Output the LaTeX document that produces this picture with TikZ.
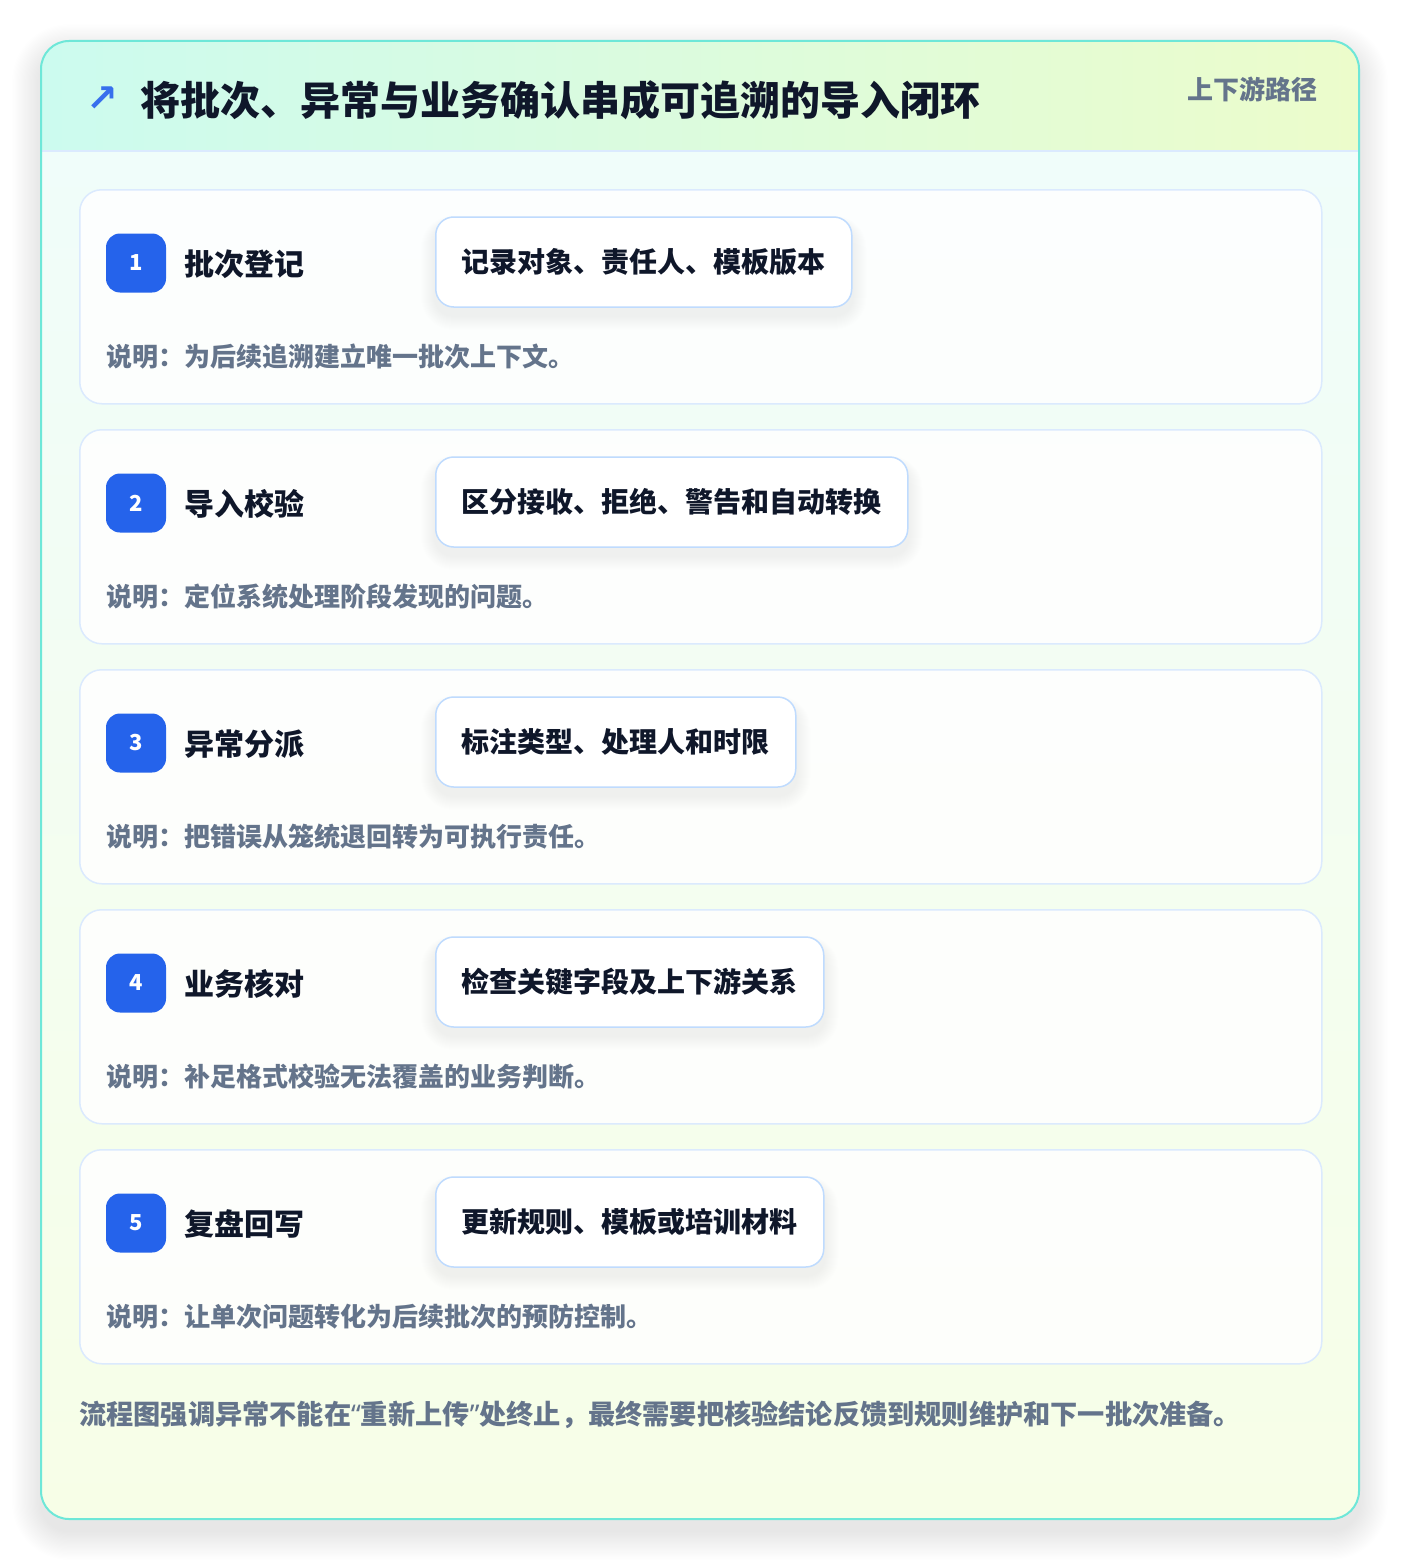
\documentclass[tikz,border=0pt]{standalone}
\usepackage{fontspec}
\setmainfont{Noto Sans CJK SC}
\newfontfamily\symfont{DejaVu Sans}
\newfontfamily\latinfont{Noto Sans}
\usetikzlibrary{calc}
\pgfdeclarelayer{back}
\pgfdeclarelayer{shad}
\pgfsetlayers{back,shad,main}
\definecolor{tealb}{HTML}{6EE7D8}
\definecolor{hdrL}{HTML}{CCFBEF}
\definecolor{hdrR}{HTML}{ECFCCB}
\definecolor{hdrline}{HTML}{DBEAFE}
\definecolor{bodyT}{HTML}{F0FDFA}
\definecolor{bodyB}{HTML}{F7FEE7}
\definecolor{cardline}{HTML}{DBEAFE}
\definecolor{pillline}{HTML}{BFDBFE}
\definecolor{badgeblue}{HTML}{2563EB}
\definecolor{ink}{HTML}{0F172A}
\definecolor{slate}{HTML}{64748B}
\newcommand{\myopenq}{{\latinfont“}}
\newcommand{\mycloseq}{{\latinfont”}}
\begin{document}
\begin{tikzpicture}[x=1pt,y=-1pt,
  rowcard/.style={draw=cardline, line width=1.5pt, fill=white, fill opacity=0.85, draw opacity=1,
    rounded corners=22pt, minimum width=1242pt, minimum height=214pt, anchor=north west, inner sep=0pt},
  badge/.style={fill=badgeblue, rounded corners=14pt, minimum width=60pt, minimum height=59pt,
    inner sep=0pt, text=white, font=\fontsize{22}{26}\selectfont\bfseries},
  lbl/.style={anchor=west, inner sep=0pt, text=ink, font=\fontsize{30}{36}\selectfont\bfseries},
  pill/.style={draw=pillline, line width=1.5pt, fill=white, rounded corners=18pt, anchor=west,
    inner xsep=26pt, inner ysep=0pt, minimum height=90pt, text=ink,
    font=\fontsize{28}{34}\selectfont\bfseries},
  desc/.style={anchor=west, inner sep=0pt, text=slate, font=\fontsize{26}{30}\selectfont\bfseries},
  softshade/.style={black, opacity=0.0035}
]
\useasboundingbox (0,0) rectangle (1400,1560);
\begin{pgfonlayer}{back}
\fill[white] (0,0) rectangle (1400,1560);
% outer card shadow
\foreach \k in {1,...,24}{
  \fill[black, opacity=0.0028, rounded corners=28pt+\k*1.2pt]
    (41-\k*1.2,41-\k*1.2+12) rectangle (1359+\k*1.2,1519+\k*1.2+12);
}
\fill[white, rounded corners=28pt] (41,41) rectangle (1359,1519);
\begin{scope}
  \clip[rounded corners=28pt] (41,41) rectangle (1359,1519);
  \shade[left color=hdrL, right color=hdrR] (41,41) rectangle (1359,151);
  \shade[top color=bodyT, bottom color=bodyB] (41,151) rectangle (1359,1519);
\end{scope}
\draw[hdrline, line width=1.5pt] (42,151) -- (1358,151);
\draw[tealb, line width=2pt, rounded corners=28pt] (41,41) rectangle (1359,1519);
\end{pgfonlayer}
% header
\node[text=badgeblue!92!white, inner sep=0pt, font=\symfont\fontsize{38}{42}\selectfont\bfseries] (arrow) at (102,99) {↗};
\node[anchor=west, inner sep=0pt, text=ink, font=\fontsize{40}{46}\selectfont\bfseries] (title) at (140,100)
  {将批次、异常与业务确认串成可追溯的导入闭环};
\node[anchor=east, inner sep=0pt, text=slate, font=\fontsize{26}{30}\selectfont\bfseries] (tag) at (1318,89)
  {上下游路径};
% rows
\foreach \i/\lab/\pil/\des in {
  1/批次登记/记录对象、责任人、模板版本/说明：为后续追溯建立唯一批次上下文。,
  2/导入校验/区分接收、拒绝、警告和自动转换/说明：定位系统处理阶段发现的问题。,
  3/异常分派/标注类型、处理人和时限/说明：把错误从笼统退回转为可执行责任。,
  4/业务核对/检查关键字段及上下游关系/说明：补足格式校验无法覆盖的业务判断。,
  5/复盘回写/更新规则、模板或培训材料/说明：让单次问题转化为后续批次的预防控制。}{
  \pgfmathsetmacro{\top}{189+240*(\i-1)}
  \begin{pgfonlayer}{back}
    \node[rowcard] (card\i) at (79,\top) {};
  \end{pgfonlayer}
  \node[badge] (badge\i) at (136,\top+74) {\i};
  \node[lbl] (lbl\i) at (184,\top+75) {\lab};
  \node[pill] (pill\i) at (435,\top+73) {\pil};
  \begin{pgfonlayer}{shad}
    \foreach \k in {1,...,14}{
      \fill[softshade, rounded corners=18pt+\k pt]
        ($(pill\i.north west)+(-\k,8-\k*0.6)$) rectangle ($(pill\i.south east)+(\k,8+\k)$);
    }
  \end{pgfonlayer}
  \node[desc] (desc\i) at (106,\top+168) {\des};
}
% footer
\node[anchor=west, inner sep=0pt, text=slate, font=\fontsize{27.2}{31}\selectfont\bfseries] (foot) at (79,1415)
  {流程图强调异常不能在\myopenq 重新上传\mycloseq 处终止，最终需要把核验结论反馈到规则维护和下一批次准备。};
\end{tikzpicture}
\end{document}
